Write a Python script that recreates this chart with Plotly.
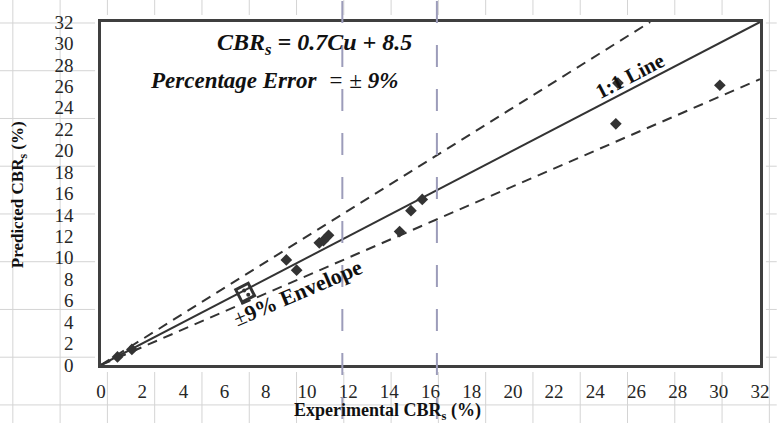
import plotly.graph_objects as go

# ---- data ----
exp_cbr = [0.8, 1.5, 9.0, 9.5, 10.6, 10.8, 11.05, 14.5, 15.05, 15.6, 25.0, 25.1, 30.05]
pred_cbr = [0.75, 1.45, 9.8, 8.85, 11.4, 11.6, 12.1, 12.45, 14.4, 15.45, 22.5, 26.3, 26.1]
boxed_exp = [7.0]
boxed_pred = [6.75]
boxed_dots_exp = [6.95, 7.15]
boxed_dots_pred = [6.95, 6.55]
line_x = [0, 32]
env_factor = 1.2
tick_vals = list(range(0, 33, 2))
tick_text = [str(v) for v in tick_vals]

W, H = 782, 423
PL, PR, PT, PB = 101, 770, 18, 365  # plot area in pixels


def px(x):
    return (x - PL) / (PR - PL)


def py(y):
    return (PB - y) / (PB - PT)


fig = go.Figure()

DARK = "#333333"
fig.add_trace(go.Scatter(x=line_x, y=line_x, mode="lines",
                         line=dict(color=DARK, width=2), hoverinfo="skip"))
fig.add_trace(go.Scatter(x=[0, line_x[1] / env_factor], y=[0, line_x[1]], mode="lines",
                         line=dict(color=DARK, width=2, dash="10px,7px"), hoverinfo="skip"))
fig.add_trace(go.Scatter(x=line_x, y=[0, line_x[1] / env_factor], mode="lines",
                         line=dict(color=DARK, width=2, dash="10px,7px"), hoverinfo="skip"))
fig.add_trace(go.Scatter(x=exp_cbr, y=pred_cbr, mode="markers",
                         marker=dict(symbol="diamond", size=9, color=DARK)))
fig.add_trace(go.Scatter(x=boxed_exp, y=boxed_pred, mode="markers",
                         marker=dict(symbol="square-open", size=14, angle=-27,
                                     color=DARK, line=dict(width=3, color=DARK))))
fig.add_trace(go.Scatter(x=boxed_dots_exp, y=boxed_dots_pred, mode="markers",
                         marker=dict(symbol="circle", size=4, color=DARK)))

shapes = []
GRID = "#d4d4d4"
# spreadsheet cell grid
for k in range(17):
    xv = 11.5 + 48.0 * k
    shapes.append(dict(type="line", xref="paper", yref="paper", layer="below",
                       x0=px(xv), x1=px(xv), y0=py(-5), y1=py(H + 5),
                       line=dict(color=GRID, width=1)))
for k in range(9):
    yv = 19 + 48.3 * k
    shapes.append(dict(type="line", xref="paper", yref="paper", layer="below",
                       x0=px(-5), x1=px(W + 5), y0=py(yv), y1=py(yv),
                       line=dict(color=GRID, width=1)))
# white chart block covering the grid
shapes.append(dict(type="rect", xref="paper", yref="paper", layer="below",
                   x0=px(95), x1=px(776), y0=py(372), y1=py(11),
                   fillcolor="white", line=dict(width=0)))
# page break dashed lines
for xv in (346, 442):
    shapes.append(dict(type="line", xref="paper", yref="paper", layer="above",
                       x0=px(xv), x1=px(xv), y0=py(-3.3), y1=py(H + 10),
                       line=dict(color="#9c9cba", width=2, dash="22px,22px")))

SERIF = "Liberation Serif"
TXT = "#111111"
annotations = [
    dict(text="<b><i>CBR<sub>s</sub> = 0.7Cu + 8.5</i></b>", x=px(318), y=py(40),
         font=dict(size=24, color=TXT, family=SERIF)),
    dict(text="<b><i>Percentage Error </i></b> <i>= ± <b>9%</b></i>", x=px(277), y=py(77),
         font=dict(size=23, color=TXT, family=SERIF)),
    dict(text="<b>1:1 Line</b>", x=px(638), y=py(73), textangle=-27.4,
         font=dict(size=21, color=TXT, family=SERIF)),
    dict(text="±<b>9% Envelope</b>", x=px(301), y=py(292), textangle=-23,
         font=dict(size=22, color=TXT, family=SERIF)),
    dict(text="<b>Predicted CBR<sub>s</sub> (%)</b>", x=px(18), y=py(193), textangle=-90,
         font=dict(size=17, color=TXT, family=SERIF)),
    dict(text="<b>Experimental CBR<sub>s</sub> (%)</b>", x=px(392), y=py(412),
         font=dict(size=18, color=TXT, family=SERIF)),
]
for a in annotations:
    a.update(xref="paper", yref="paper", showarrow=False, xanchor="center", yanchor="middle")

axis_common = dict(range=[0, 32], tickvals=tick_vals, ticktext=tick_text, showgrid=False,
                   zeroline=False, showline=True, mirror=True, linecolor="#3f3f3f",
                   linewidth=2.5, ticks="", fixedrange=True,
                   tickfont=dict(family=SERIF, size=19, color="#262626"))

fig.update_layout(
    width=W, height=H, autosize=False,
    margin=dict(l=PL, r=W - PR, t=PT, b=H - PB, pad=0),
    paper_bgcolor="white", plot_bgcolor="white",
    showlegend=False,
    xaxis=dict(**axis_common, ticklabelstandoff=7),
    yaxis=dict(**axis_common, ticklabelstandoff=21),
    shapes=shapes, annotations=annotations,
)

fig.write_html("out.html", post_script="document.body.style.margin='0';",
               config={"displayModeBar": False})
